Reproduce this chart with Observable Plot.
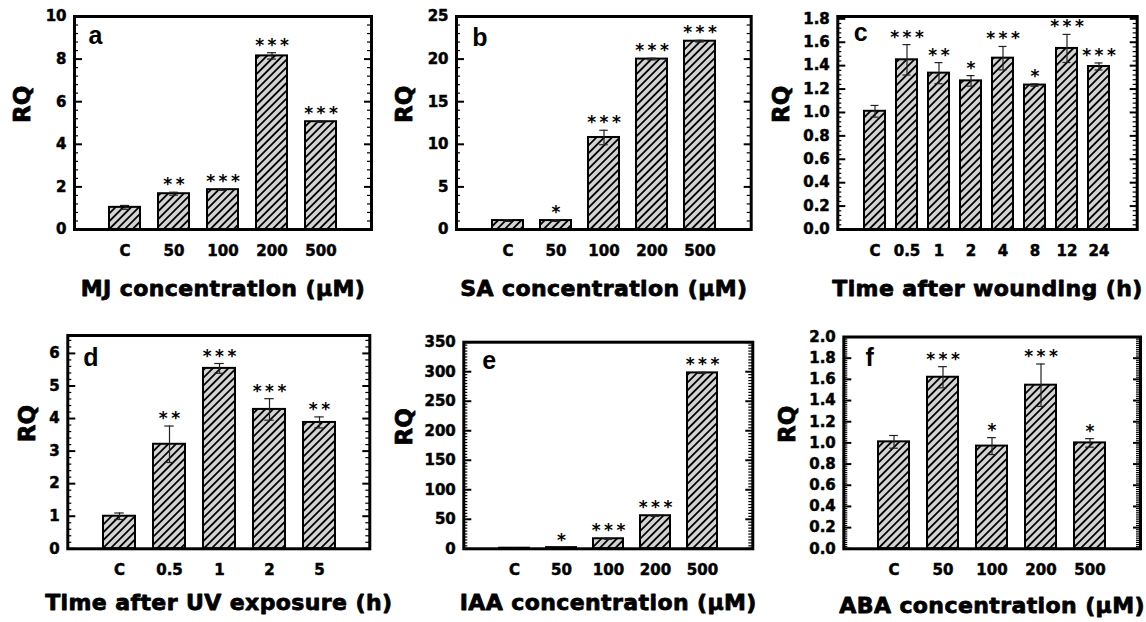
<!DOCTYPE html>
<html><head><meta charset="utf-8">
<script src="https://cdn.jsdelivr.net/npm/d3@7"></script>
<script src="https://cdn.jsdelivr.net/npm/@observablehq/plot@0.6"></script>
<style>
html,body{margin:0;padding:0;background:#fff;}
#fig{position:relative;width:1146px;height:622px;overflow:hidden;background:#fff;}
#fig svg.panel{position:absolute;overflow:visible;}
g[font-size="22"] text{letter-spacing:0.4px;}
g[font-size="17"] text{letter-spacing:3.5px;}
g[aria-label$="tick label"] text{stroke:#000;stroke-width:0.5px;paint-order:stroke;}
</style></head><body>
<svg width="0" height="0" style="position:absolute"><defs>
<pattern id="hatch" patternUnits="userSpaceOnUse" width="5.5" height="5.5" patternTransform="rotate(45)">
<rect width="5.5" height="5.5" fill="#d3d3d3"/>
<line x1="2.75" y1="0" x2="2.75" y2="5.5" stroke="#000" stroke-width="1.8"/>
</pattern></defs></svg>
<div id="fig"></div>
<script>
// ---- data ----
const catsA = ["C", "50", "100", "200", "500"];
const valsA = [1.04, 1.68, 1.87, 8.15, 5.06];
const errsA = [0.09, 0.07, 0.03, 0.15, 0.03];
const sigA = ["", "**", "***", "***", "***"];
const ticksA = [0, 2, 4, 6, 8, 10];

const catsB = ["C", "50", "100", "200", "500"];
const valsB = [1.05, 1.05, 10.8, 20.0, 22.1];
const errsB = [0.1, 0.1, 0.85, 0.1, 0.1];
const sigB = ["", "*", "***", "***", "***"];
const ticksB = [0, 5, 10, 15, 20, 25];

const catsC = ["C", "0.5", "1", "2", "4", "8", "12", "24"];
const valsC = [1.01, 1.45, 1.336, 1.27, 1.464, 1.234, 1.547, 1.393];
const errsC = [0.05, 0.13, 0.09, 0.045, 0.10, 0.01, 0.12, 0.03];
const sigC = ["", "***", "**", "*", "***", "*", "***", "***"];
const ticksC = [0, 0.2, 0.4, 0.6, 0.8, 1.0, 1.2, 1.4, 1.6, 1.8];

const catsD = ["C", "0.5", "1", "2", "5"];
const valsD = [1.0, 3.21, 5.54, 4.28, 3.88];
const errsD = [0.1, 0.56, 0.15, 0.33, 0.17];
const sigD = ["", "**", "***", "***", "**"];
const ticksD = [0, 1, 2, 3, 4, 5, 6];

const catsE = ["C", "50", "100", "200", "500"];
const valsE = [1, 2, 17, 56, 298];
const errsE = [0.1, 0.2, 1, 1, 1];
const sigE = ["", "*", "***", "***", "***"];
const ticksE = [0, 50, 100, 150, 200, 250, 300, 350];

const catsF = ["C", "50", "100", "200", "500"];
const valsF = [1.01, 1.62, 0.97, 1.545, 1.0];
const errsF = [0.06, 0.1, 0.08, 0.2, 0.04];
const sigF = ["", "***", "*", "***", "*"];
const ticksF = [0, 0.2, 0.4, 0.6, 0.8, 1.0, 1.2, 1.4, 1.6, 1.8, 2.0];

const titles = ["MJ concentration (µM)", "SA concentration (µM)", "Time after wounding (h)",
  "Time after UV exposure (h)", "IAA concentration (µM)", "ABA concentration (µM)"];
const letters = ["a", "b", "c", "d", "e", "f"];

const fmtInt = d3.format("d");
const fmt1 = d3.format(".1f");

function panel(c) {
  const data = c.cats.map((k, i) => ({k, v: c.vals[i], e: c.errs[i], s: c.sig[i]}));
  const W = c.width - c.ml - c.mr;
  const n = c.cats.length;
  const step = W / (n - c.pi + 2 * c.po);
  const bw = step * (1 - c.pi);
  const capInset = Math.max(0, (bw - 9) / 2);
  const minor = d3.range(0, c.yTop + 1e-9, c.minorStep)
    .filter(t => !c.ticks.some(m => Math.abs(m - t) < 1e-6));
  const svg = Plot.plot({
    width: c.width, height: c.height,
    marginLeft: c.ml, marginRight: c.mr, marginTop: c.mt, marginBottom: c.mb,
    style: {fontFamily: "'DejaVu Sans', sans-serif", fontWeight: "bold", fontSize: "15px",
      color: "#000", background: "transparent", overflow: "visible"},
    x: {domain: c.cats, paddingInner: c.pi, paddingOuter: c.po, label: null},
    y: {domain: [0, c.yTop], label: null},
    marks: [
      Plot.barY(data, {x: "k", y: "v", fill: "url(#hatch)", stroke: "#000", strokeWidth: 2}),
      Plot.ruleX(data, {x: "k", y1: d => d.v - d.e, y2: d => d.v + d.e, stroke: "#222", strokeWidth: 1.2}),
      Plot.tickY(data, {x: "k", y: d => d.v + d.e, inset: capInset, stroke: "#222", strokeWidth: 1.2}),
      Plot.tickY(data, {x: "k", y: d => d.v - d.e, inset: capInset, stroke: "#222", strokeWidth: 1.2}),
      Plot.text(data.filter(d => d.s), {x: "k", y: d => d.v + d.e, text: "s", lineAnchor: "bottom",
        dy: -2, dx: 1.75, fontSize: 17, fontWeight: "bold", fill: "#000"}),
      Plot.tickY(c.ticks, {y: d => d, insetRight: W - 8, stroke: "#000", strokeWidth: 2}),
      Plot.tickY(c.ticks, {y: d => d, insetLeft: W - 7, stroke: "#000", strokeWidth: 2}),
      Plot.tickY(minor, {y: d => d, insetRight: W - 4, stroke: "#000", strokeWidth: 1.2}),
      Plot.tickY(minor, {y: d => d, insetLeft: W - 4, stroke: "#000", strokeWidth: 1.2}),
      Plot.frame({stroke: "#000", strokeWidth: 3}),
      Plot.axisY(c.ticks, {tickSize: 0, tickPadding: 8, tickFormat: c.fmt, label: null, fontSize: 15}),
      Plot.axisX({tickSize: 0, tickPadding: 16, label: null, fontSize: 15}),
      Plot.text([c.title], {frameAnchor: "bottom", lineAnchor: "bottom", dy: c.titleDy, fontSize: 22,
        fill: "#000", stroke: "#000", strokeWidth: 0.8}),
      Plot.text(["RQ"], {frameAnchor: "left", rotate: -90, dx: c.rqDx, fontSize: 23,
        fill: "#000", stroke: "#000", strokeWidth: 0.8}),
      Plot.text([c.letter], {frameAnchor: "top-left", textAnchor: "start", lineAnchor: "bottom",
        dx: c.ldx, dy: c.ldy, fontFamily: "'Liberation Sans', Arial, sans-serif", fontSize: 25,
        fontWeight: "bold", fill: "#000"})
    ]
  });
  svg.classList.add("panel");
  svg.style.left = c.left + "px";
  svg.style.top = c.top + "px";
  document.getElementById("fig").appendChild(svg);
}

panel({cats: catsA, vals: valsA, errs: errsA, sig: sigA, ticks: ticksA, minorStep: 0.4, yTop: 10, fmt: fmtInt,
  title: titles[0], letter: letters[0], left: 0, top: 0, width: 380, height: 305,
  ml: 74, mr: 9, mt: 16, mb: 76, pi: 0.377, po: 0.673, titleDy: 66, rqDx: -52, ldx: 14, ldy: 27.5});
panel({cats: catsB, vals: valsB, errs: errsB, sig: sigB, ticks: ticksB, minorStep: 1, yTop: 25, fmt: fmtInt,
  title: titles[1], letter: letters[1], left: 380, top: 0, width: 380, height: 305,
  ml: 76, mr: 9.3, mt: 16, mb: 76, pi: 0.356, po: 0.694, titleDy: 66, rqDx: -52, ldx: 15.7, ldy: 29});
panel({cats: catsC, vals: valsC, errs: errsC, sig: sigC, ticks: ticksC, minorStep: 0.04, yTop: 1.82, fmt: fmt1,
  title: titles[2], letter: letters[2], left: 760, top: 0, width: 386, height: 305,
  ml: 77.3, mr: 9.3, mt: 16, mb: 76, pi: 0.332, po: 0.712, titleDy: 66, rqDx: -56, ldx: 16, ldy: 24});
panel({cats: catsD, vals: valsD, errs: errsD, sig: sigD, ticks: ticksD, minorStep: 0.2, yTop: 6.55, fmt: fmtInt,
  title: titles[3], letter: letters[3], left: 0, top: 305, width: 380, height: 317,
  ml: 67.3, mr: 10.7, mt: 30, mb: 73.7, pi: 0.37, po: 0.705, titleDy: 61.5, rqDx: -40, ldx: 15.4, ldy: 30});
panel({cats: catsE, vals: valsE, errs: errsE, sig: sigE, ticks: ticksE, minorStep: 5, yTop: 350, fmt: fmtInt,
  title: titles[4], letter: letters[4], left: 380, top: 305, width: 380, height: 317,
  ml: 83.3, mr: 7.7, mt: 36.7, mb: 73.7, pi: 0.36, po: 0.70, titleDy: 61.5, rqDx: -59, ldx: 18.4, ldy: 26.6});
panel({cats: catsF, vals: valsF, errs: errsF, sig: sigF, ticks: ticksF, minorStep: 0.02, yTop: 2.0, fmt: fmt1,
  title: titles[5], letter: letters[5], left: 760, top: 305, width: 386, height: 317,
  ml: 83.3, mr: 6, mt: 31.5, mb: 73.7, pi: 0.364, po: 0.698, titleDy: 64.5, rqDx: -56, ldx: 21.7, ldy: 29});
</script>
</body></html>
